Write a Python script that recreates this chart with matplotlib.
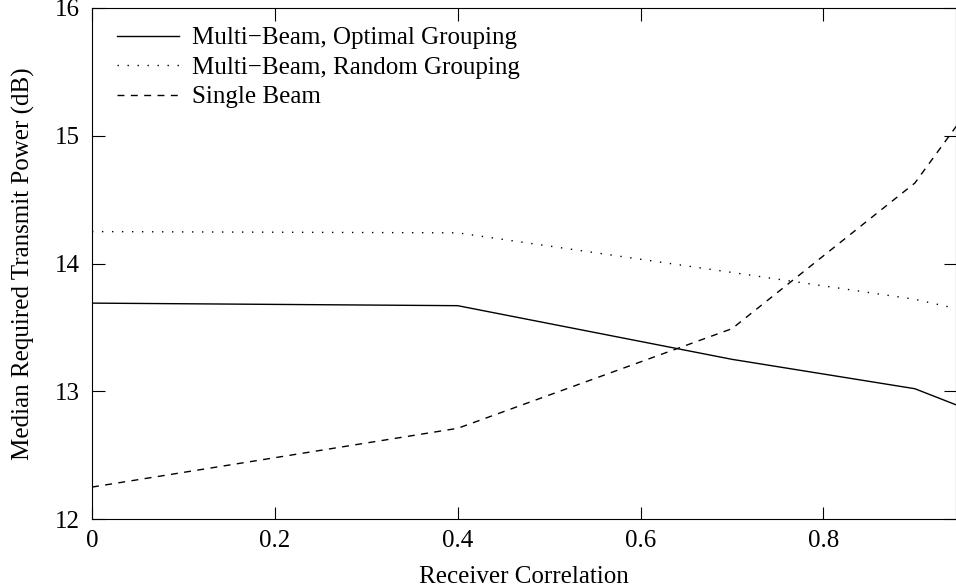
import matplotlib.pyplot as plt

plt.rcParams['font.family'] = ['Liberation Serif', 'DejaVu Serif']

# Receiver correlation and median required transmit power (dB)
correlation = [0.0, 0.4, 0.7, 0.9, 0.95]
optimal_grouping = [13.69, 13.67, 13.25, 13.02, 12.88]
random_grouping = [14.25, 14.24, 13.93, 13.72, 13.64]
single_beam = [12.25, 12.71, 13.49, 14.63, 15.12]

labels = ['Multi\u2212Beam, Optimal Grouping',
          'Multi\u2212Beam, Random Grouping',
          'Single Beam']

fig = plt.figure(figsize=(9.56, 5.88), dpi=100)
ax = fig.add_axes([0.0962, 0.1173, 0.9038, 0.8691])

ax.plot(correlation, optimal_grouping, 'k-', lw=1.0, label=labels[0])
ax.plot(correlation, random_grouping, 'k', ls=(0, (1, 6.2)), lw=1.0, label=labels[1])
ax.plot(correlation, single_beam, 'k', ls=(0, (5, 4.6)), lw=1.0, label=labels[2])

ax.set_xlim(0, 0.945)
ax.set_ylim(12, 16)
ax.set_xticks([0, 0.2, 0.4, 0.6, 0.8])
ax.set_xticklabels(['0', '0.2', '0.4', '0.6', '0.8'])
ax.set_yticks([12, 13, 14, 15, 16])
ax.tick_params(direction='in', top=True, right=True, labelsize=18, length=9)
ax.tick_params(axis='x', pad=8)
ax.tick_params(axis='y', pad=9)

ax.set_xlabel('Receiver Correlation', fontsize=18, labelpad=10)
ax.set_ylabel('Median Required Transmit Power (dB)', fontsize=18, labelpad=14)

ax.legend(loc='upper left', bbox_to_anchor=(0, 1.012), frameon=False,
          fontsize=18, handlelength=2.5, handletextpad=0.5,
          labelspacing=0.28, borderaxespad=0.6)

fig.savefig('out.png', dpi=100)
